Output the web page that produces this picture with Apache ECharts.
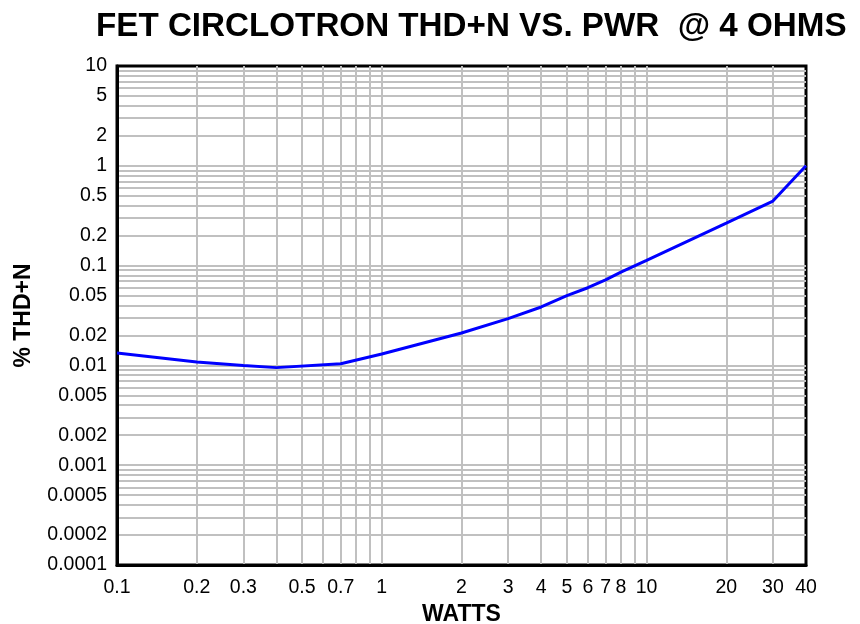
<!DOCTYPE html>
<html>
<head>
<meta charset="utf-8">
<script src="https://cdn.jsdelivr.net/npm/echarts@6/dist/echarts.min.js"></script>
<style>html,body{margin:0;padding:0;background:#fff}#c{width:860px;height:624px}</style>
</head>
<body>
<div id="c"></div>
<script>
// Data (watts vs % THD+N)
const watts = [0.1, 0.2, 0.3, 0.4, 0.7, 1, 2, 3, 4, 5, 6, 7, 8, 10, 20, 30, 40];
const thdn  = [0.0133, 0.0108, 0.0100, 0.0095, 0.0104, 0.013, 0.0211, 0.0294, 0.0385, 0.050, 0.060, 0.072, 0.086, 0.113, 0.267, 0.443, 1.0];

// Tick labels
const xTickLabels = ['0.1','0.2','0.3','0.5','0.7','1','2','3','4','5','6','7','8','10','20','30','40'];
const yTickLabels = ['0.0001','0.0002','0.0005','0.001','0.002','0.005','0.01','0.02','0.05','0.1','0.2','0.5','1','2','5','10'];

// Grid line positions
const xGridValues = [0.2,0.3,0.4,0.5,0.6,0.7,0.8,0.9,1,2,3,4,5,6,7,8,9,10,20,30];
const yGridValues = [
  0.0002,0.0003,0.0004,0.0005,0.0006,0.0007,0.0008,0.0009,
  0.001,0.002,0.003,0.004,0.005,0.006,0.007,0.008,0.009,
  0.01,0.02,0.03,0.04,0.05,0.06,0.07,0.08,0.09,
  0.1,0.2,0.3,0.4,0.5,0.6,0.7,0.8,0.9,
  1,2,3,4,5,6,7,8,9
];

const lg = v => Math.log10(v);
const fmtFrom = labels => v => {
  for (const s of labels) { if (Math.abs(lg(parseFloat(s)) - v) < 1e-9) return s; }
  return '';
};
const FONT = "'Liberation Sans', Arial, sans-serif";

const chart = echarts.init(document.getElementById('c'), null, {renderer: 'canvas'});
chart.setOption({
  animation: false,
  backgroundColor: '#fff',
  title: {
    text: 'FET CIRCLOTRON THD+N VS. PWR  @ 4 OHMS',
    left: 91, top: 5,
    textStyle: {fontFamily: FONT, fontWeight: 'bold', fontSize: 33.2, color: '#000'}
  },
  grid: {
    left: 117, right: 54, top: 66, bottom: 59,
    containLabel: false, outerBoundsMode: 'none',
    show: true, borderColor: '#000', borderWidth: 3, backgroundColor: 'transparent'
  },
  xAxis: {
    type: 'value',
    min: lg(0.1), max: lg(40),
    name: 'WATTS', nameLocation: 'middle', nameGap: 35,
    nameTextStyle: {fontFamily: FONT, fontWeight: 'bold', fontSize: 23, color: '#000', verticalAlign: 'top'},
    axisLine: {show: true, onZero: false, lineStyle: {color: '#000', width: 3}},
    axisTick: {show: false, customValues: xGridValues.map(lg)},
    axisLabel: {
      customValues: xTickLabels.map(s => lg(parseFloat(s))),
      formatter: fmtFrom(xTickLabels),
      margin: 13, color: '#000', fontFamily: FONT, fontSize: 19.5
    },
    splitLine: {show: true, lineStyle: {color: '#c0c0c0', width: 2}}
  },
  yAxis: {
    type: 'value',
    min: lg(0.0001), max: lg(10),
    name: '% THD+N', nameLocation: 'middle', nameGap: 82,
    nameTextStyle: {fontFamily: FONT, fontWeight: 'bold', fontSize: 23, color: '#000'},
    axisLine: {show: true, onZero: false, lineStyle: {color: '#000', width: 3}},
    axisTick: {show: false, customValues: yGridValues.map(lg)},
    axisLabel: {
      customValues: yTickLabels.map(s => lg(parseFloat(s))),
      formatter: fmtFrom(yTickLabels),
      margin: 10, color: '#000', fontFamily: FONT, fontSize: 19.5,
      padding: [4, 0, 0, 0]
    },
    splitLine: {show: true, lineStyle: {color: '#c0c0c0', width: 2}}
  },
  series: [{
    type: 'line',
    data: watts.map((w, i) => [lg(w), lg(thdn[i])]),
    symbol: 'none',
    lineStyle: {color: '#0000ff', width: 3},
    z: 5
  }]
});
</script>
</body>
</html>
